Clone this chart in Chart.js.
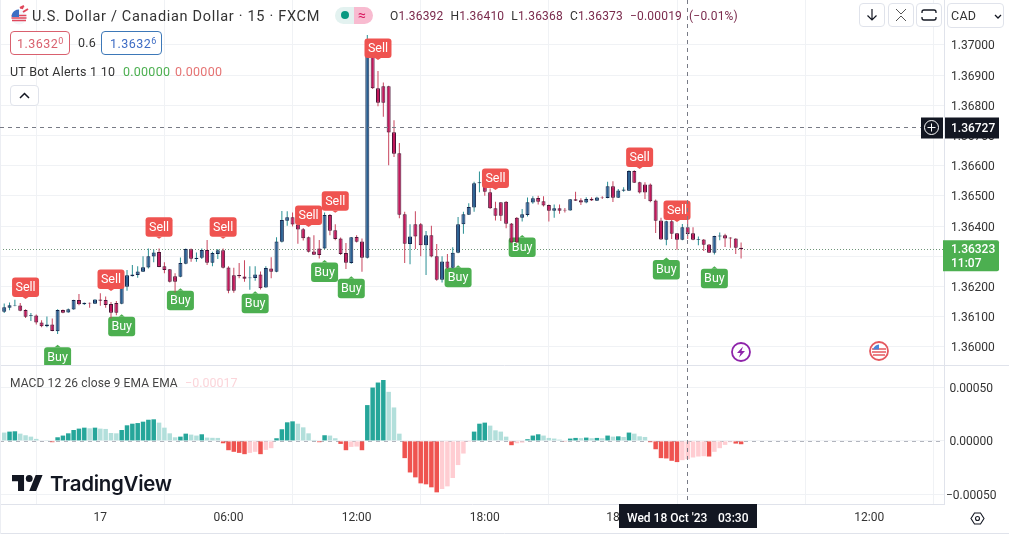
<!DOCTYPE html>
<html>
<head>
<meta charset="utf-8">
<title>USDCAD 15</title>
<script src="https://cdn.jsdelivr.net/npm/chart.js@4/dist/chart.umd.js"></script>
<style>
  html, body { margin: 0; padding: 0; background: #fff; }
  body { width: 1009px; height: 534px; overflow: hidden; position: relative; font-family: Roboto, sans-serif; color: #131722; }
  canvas { position: absolute; left: 0; top: 0; }
  .t { position: absolute; white-space: nowrap; font-size: 12.5px; line-height: 16px; letter-spacing: .25px; }
  .box { position: absolute; box-sizing: border-box; border: 1px solid #e0e3eb; border-radius: 4px; background: #fff; }
  sup { font-size: 9px; line-height: 0; vertical-align: 4px; }
  svg { position: absolute; overflow: visible; }
</style>
</head>
<body>
<canvas id="chart" width="1009" height="534"></canvas>

<svg style="left:10px;top:5px" width="20" height="20" viewBox="0 0 20 20">
  <circle cx="9" cy="12" r="7.5" fill="#f4f6fa"/>
  <path d="M1.6 10.5h14.8M1.5 13h15M2 15.5h14" stroke="#e0475b" stroke-width="1.4"/>
  <path d="M2 9a7.5 7.5 0 0 1 7-4.5V12H1.6z" fill="#3d6fc4"/>
  <path d="M10 3l4-2M13 7l5-3M12 4l1-3" stroke="#e0475b" stroke-width="2"/>
</svg>
<div class="t" style="left:32px;top:8.5px;font-size:14.5px;color:#333;letter-spacing:.7px">U.S. Dollar / Canadian Dollar · 15 · FXCM</div>

<div style="position:absolute;left:335px;top:7px;width:19px;height:17px;background:#e3f2f0;border-radius:9px 0 0 9px"></div>
<div style="position:absolute;left:354px;top:7px;width:19px;height:17px;background:#f8bbd0;border-radius:0 9px 9px 0"></div>
<div style="position:absolute;left:341px;top:11px;width:8px;height:8px;background:#089981;border-radius:50%"></div>
<div class="t" style="left:358px;top:7px;color:#d81b60;font-size:14px">≈</div>

<div class="t" style="left:390px;top:8px;color:#333;font-size:12px;letter-spacing:.2px;word-spacing:3.8px">O<span style="color:#7a2a4c">1.36392</span> H<span style="color:#7a2a4c">1.36410</span> L<span style="color:#7a2a4c">1.36368</span> C<span style="color:#7a2a4c">1.36373</span> <span style="color:#7a2a4c">−0.00019 (−0.01%)</span></div>

<div class="box" style="left:10px;top:31px;width:60px;height:24px;border-color:#d9606e"></div>
<div class="t" style="left:17px;top:36px;color:#d9606e;letter-spacing:.45px">1.3632<sup>0</sup></div>
<div class="t" style="left:78px;top:35px;color:#333">0.6</div>
<div class="box" style="left:101px;top:31px;width:61px;height:24px;border-color:#3d78b8"></div>
<div class="t" style="left:110px;top:36px;color:#3d6cc4;letter-spacing:.45px">1.3632<sup>6</sup></div>

<div class="t" style="left:10px;top:64px;color:#333">UT Bot Alerts 1 10</div>
<div class="t" style="left:123px;top:64px;color:#4caf50">0.00000</div>
<div class="t" style="left:175px;top:64px;color:#e57373">0.00000</div>
<div class="box" style="left:10px;top:85px;width:29px;height:21px"></div>
<svg style="left:19px;top:92px" width="11" height="7"><path d="M1 6l4.5-4.5L10 6" fill="none" stroke="#131722" stroke-width="1.5"/></svg>

<div class="box" style="left:859px;top:3px;width:26px;height:24px"></div>
<svg style="left:866px;top:8px" width="12" height="14"><path d="M6 1v11M1.5 7.500L6 12l4.500-4.500" fill="none" stroke="#131722" stroke-width="1.2"/></svg>
<div class="box" style="left:888px;top:3px;width:26px;height:24px"></div>
<svg style="left:895px;top:8px" width="12" height="14"><path d="M1 1l5 5 5-5M1 13l5-5 5 5" fill="none" stroke="#555" stroke-width="1"/></svg>
<div class="box" style="left:916px;top:3px;width:26px;height:24px"></div>
<svg style="left:921px;top:9px" width="16" height="12"><path d="M1 4V3a2 2 0 0 1 2-2h10a2 2 0 0 1 2 2v1M1 8v1a2 2 0 0 0 2 2h10a2 2 0 0 0 2-2V8" fill="none" stroke="#131722" stroke-width="1.3"/></svg>
<div class="box" style="left:947px;top:3px;width:57px;height:25px"></div>
<div class="t" style="left:951px;top:8px;color:#333;font-size:12.5px">CAD</div>
<svg style="left:994px;top:14px" width="8" height="5"><path d="M1 1l3 3 3-3" fill="none" stroke="#131722" stroke-width="1.3"/></svg>

<div class="t" style="left:10px;top:375px;color:#444;font-size:12px;letter-spacing:.12px">MACD 12 26 close 9 EMA EMA</div>
<div class="t" style="left:185px;top:375px;color:#fbd5da;letter-spacing:0">−0.00017</div>

<svg style="left:12px;top:475px" width="31" height="16" viewBox="0 4 36 18" preserveAspectRatio="none">
  <path d="M14 22H7V11H0V4h14zM28 22h-8l7.5-18h8z" fill="#131722"/><circle cx="20" cy="8" r="4" fill="#131722"/>
</svg>
<div class="t" style="left:50px;top:471px;font-family:Inter,Roboto,sans-serif;font-weight:600;font-size:20.5px;line-height:26px;letter-spacing:-.3px;color:#131722">TradingView</div>

<svg style="left:731px;top:342px" width="20" height="20" viewBox="0 0 20 20">
  <circle cx="10" cy="10" r="9" fill="#fff" stroke="#8e24aa" stroke-width="1.8"/>
  <path d="M12 4.500L6 11h3.500L8 15.500 14 9h-3.500z" fill="#8e24aa"/>
</svg>
<svg style="left:869px;top:341px" width="20" height="20" viewBox="0 0 20 20">
  <circle cx="10" cy="10" r="9" fill="#fff" stroke="#e5585f" stroke-width="1.8"/>
  <path d="M3 8h14M3 11h14M4 14h12" stroke="#e5585f" stroke-width="1.6"/>
  <path d="M4 8.500a7 7 0 0 1 6-5v5z" fill="#4a86d8"/>
</svg>
<svg style="left:970px;top:511px" width="15" height="15" viewBox="0 0 15 15">
  <path d="M4.500 2h6l3.500 5.500-3.500 5.500h-6L1 7.500z" fill="none" stroke="#131722" stroke-width="1.1"/>
  <circle cx="7.500" cy="7.500" r="2" fill="none" stroke="#131722" stroke-width="1.1"/>
</svg>

<script>
const opens = [1.36116,1.36130,1.36136,1.36137,1.36122,1.36102,1.36104,1.36081,1.36068,1.36074,
  1.36052,1.36122,1.36114,1.36124,1.36155,1.36141,1.36146,1.36143,1.36157,1.36155,
  1.36142,1.36145,1.36143,1.36199,1.36234,1.36238,1.36249,1.36263,1.36299,1.36314,
  1.36267,1.36257,1.36234,1.36232,1.36275,1.36323,1.36291,1.36295,1.36321,1.36279,
  1.36308,1.36320,1.36263,1.36237,1.36238,1.36233,1.36227,1.36228,1.36240,1.36197,
  1.36260,1.36249,1.36348,1.36418,1.36429,1.36405,1.36390,1.36363,1.36316,1.36326,
  1.36326,1.36437,1.36386,1.36359,1.36311,1.36278,1.36364,1.36349,1.36295,1.36965,
  1.36857,1.36863,1.36863,1.36711,1.36641,1.36439,1.36341,1.36406,1.36406,1.36337,
  1.36370,1.36300,1.36222,1.36283,1.36262,1.36312,1.36406,1.36438,1.36462,1.36542,
  1.36545,1.36512,1.36459,1.36479,1.36481,1.36409,1.36428,1.36428,1.36437,1.36478,
  1.36493,1.36482,1.36470,1.36451,1.36459,1.36454,1.36452,1.36489,1.36486,1.36478,
  1.36491,1.36484,1.36495,1.36493,1.36532,1.36494,1.36517,1.36517,1.36583,1.36545,
  1.36538,1.36538,1.36485,1.36419,1.36355,1.36416,1.36376,1.36355,1.36396,1.36376,
  1.36355,1.36356,1.36339,1.36312,1.36366,1.36370,1.36362,1.36359,1.36328];
const highs = [1.36144,1.36147,1.36156,1.36145,1.36125,1.36112,1.36107,1.36088,1.36101,1.36094,
  1.36125,1.36124,1.36127,1.36156,1.36175,1.36147,1.36147,1.36158,1.36178,1.36167,
  1.36149,1.36152,1.36202,1.36255,1.36271,1.36267,1.36300,1.36326,1.36322,1.36326,
  1.36280,1.36258,1.36244,1.36296,1.36326,1.36326,1.36313,1.36326,1.36354,1.36315,
  1.36324,1.36326,1.36267,1.36262,1.36278,1.36287,1.36267,1.36267,1.36250,1.36267,
  1.36297,1.36363,1.36450,1.36449,1.36445,1.36418,1.36394,1.36366,1.36370,1.36354,
  1.36445,1.36440,1.36406,1.36362,1.36344,1.36364,1.36370,1.36359,1.37033,1.36967,
  1.36914,1.36876,1.36865,1.36751,1.36675,1.36448,1.36406,1.36449,1.36410,1.36384,
  1.36401,1.36341,1.36300,1.36308,1.36330,1.36430,1.36448,1.36476,1.36547,1.36581,
  1.36550,1.36525,1.36481,1.36479,1.36483,1.36410,1.36430,1.36457,1.36495,1.36499,
  1.36501,1.36499,1.36472,1.36472,1.36472,1.36460,1.36490,1.36514,1.36492,1.36496,
  1.36496,1.36497,1.36499,1.36547,1.36549,1.36523,1.36529,1.36585,1.36585,1.36547,
  1.36545,1.36541,1.36488,1.36428,1.36418,1.36423,1.36377,1.36407,1.36423,1.36396,
  1.36366,1.36357,1.36341,1.36368,1.36379,1.36375,1.36363,1.36360,1.36346];
const lows = [1.36112,1.36121,1.36135,1.36118,1.36096,1.36086,1.36074,1.36065,1.36065,1.36052,
  1.36043,1.36111,1.36113,1.36123,1.36138,1.36139,1.36130,1.36142,1.36136,1.36130,
  1.36094,1.36105,1.36141,1.36186,1.36233,1.36229,1.36248,1.36260,1.36280,1.36264,
  1.36244,1.36213,1.36180,1.36231,1.36274,1.36282,1.36282,1.36291,1.36271,1.36267,
  1.36291,1.36260,1.36178,1.36179,1.36227,1.36216,1.36189,1.36219,1.36190,1.36196,
  1.36227,1.36247,1.36346,1.36401,1.36399,1.36342,1.36352,1.36313,1.36304,1.36293,
  1.36324,1.36370,1.36353,1.36304,1.36258,1.36275,1.36346,1.36249,1.36293,1.36854,
  1.36797,1.36762,1.36602,1.36629,1.36426,1.36278,1.36274,1.36324,1.36300,1.36238,
  1.36297,1.36219,1.36213,1.36258,1.36260,1.36310,1.36375,1.36437,1.36448,1.36512,
  1.36501,1.36457,1.36419,1.36417,1.36393,1.36344,1.36344,1.36415,1.36432,1.36474,
  1.36472,1.36465,1.36415,1.36428,1.36441,1.36445,1.36451,1.36483,1.36470,1.36476,
  1.36483,1.36483,1.36490,1.36492,1.36480,1.36493,1.36514,1.36516,1.36543,1.36508,
  1.36490,1.36479,1.36377,1.36354,1.36337,1.36357,1.36322,1.36353,1.36357,1.36353,
  1.36337,1.36318,1.36311,1.36306,1.36353,1.36331,1.36328,1.36308,1.36293];
const closes = [1.36131,1.36138,1.36138,1.36120,1.36100,1.36105,1.36081,1.36068,1.36074,1.36053,
  1.36122,1.36113,1.36125,1.36155,1.36141,1.36146,1.36144,1.36157,1.36153,1.36139,
  1.36113,1.36113,1.36200,1.36237,1.36240,1.36250,1.36264,1.36300,1.36313,1.36265,
  1.36255,1.36216,1.36216,1.36278,1.36324,1.36292,1.36295,1.36321,1.36279,1.36311,
  1.36320,1.36262,1.36186,1.36186,1.36234,1.36226,1.36230,1.36240,1.36194,1.36261,
  1.36249,1.36349,1.36420,1.36429,1.36405,1.36389,1.36360,1.36315,1.36305,1.36304,
  1.36437,1.36385,1.36357,1.36308,1.36279,1.36363,1.36348,1.36295,1.36965,1.36857,
  1.36809,1.36809,1.36710,1.36640,1.36438,1.36342,1.36366,1.36366,1.36337,1.36370,
  1.36299,1.36222,1.36283,1.36262,1.36312,1.36406,1.36439,1.36463,1.36542,1.36545,
  1.36514,1.36459,1.36434,1.36434,1.36408,1.36346,1.36346,1.36439,1.36479,1.36492,
  1.36481,1.36468,1.36451,1.36459,1.36451,1.36452,1.36489,1.36484,1.36478,1.36490,
  1.36485,1.36495,1.36493,1.36532,1.36494,1.36518,1.36521,1.36583,1.36544,1.36511,
  1.36511,1.36482,1.36418,1.36356,1.36416,1.36375,1.36355,1.36396,1.36374,1.36355,
  1.36357,1.36338,1.36312,1.36367,1.36369,1.36359,1.36359,1.36328,1.36323];

const macdHist = [0.000078,0.000087,0.000090,0.000068,0.000053,0.000040,0.000019,0.000005,0.000003,-0.000012,
  0.000034,0.000050,0.000071,0.000102,0.000115,0.000124,0.000118,0.000124,0.000115,0.000112,
  0.000074,0.000071,0.000102,0.000146,0.000161,0.000167,0.000180,0.000198,0.000202,0.000171,
  0.000124,0.000071,0.000034,0.000040,0.000068,0.000059,0.000050,0.000062,0.000031,0.000029,
  0.000028,-0.000022,-0.000087,-0.000102,-0.000112,-0.000124,-0.000112,-0.000102,-0.000124,-0.000084,
  -0.000068,0.000025,0.000109,0.000174,0.000183,0.000161,0.000127,0.000071,0.000009,-0.000012,
  0.000053,0.000050,0.000025,-0.000028,-0.000087,-0.000056,-0.000053,-0.000087,0.000335,0.000499,
  0.000546,0.000570,0.000459,0.000313,0.000068,-0.000161,-0.000295,-0.000341,-0.000397,-0.000406,
  -0.000434,-0.000481,-0.000450,-0.000425,-0.000347,-0.000226,-0.000118,-0.000009,0.000087,0.000161,
  0.000171,0.000143,0.000099,0.000087,0.000040,-0.000040,-0.000022,-0.000016,0.000016,0.000050,
  0.000062,0.000050,0.000028,0.000022,0.000012,-0.000003,0.000022,0.000028,0.000026,0.000031,
  0.000025,0.000028,0.000025,0.000050,0.000040,0.000043,0.000037,0.000078,0.000068,0.000043,
  0.000037,-0.000012,-0.000078,-0.000161,-0.000164,-0.000186,-0.000198,-0.000180,-0.000171,-0.000155,
  -0.000146,-0.000143,-0.000146,-0.000102,-0.000068,-0.000037,-0.000012,-0.000025,-0.000031];

const priceTicks = [1.36, 1.361, 1.362, 1.363, 1.364, 1.365, 1.366, 1.367, 1.368, 1.369, 1.37];
const macdTicks = [-0.0005, 0, 0.0005];
const timeTickBars = [18, 42, 66, 90, 114, 138, 162];
const timeTickLabels = ['17', '06:00', '12:00', '18:00', '18', '06:00', '12:00'];

// bar the marker hangs from, and the price of the tip of its little arrow
const sellBars = [4, 20, 29, 41, 57, 62, 70, 92, 119, 126];
const sellTips = [1.36159, 1.36185, 1.36358, 1.36358, 1.36397, 1.36444, 1.3695, 1.3652, 1.36589, 1.36414];
const buyBars = [10, 22, 33, 47, 60, 65, 85, 97, 124, 133];
const buyTips = [1.36007, 1.36108, 1.36194, 1.36184, 1.36288, 1.36234, 1.3627, 1.36371, 1.36296, 1.36267];

const lastPrice = 1.36323;
const crossPrice = 1.36727;
const crossBar = 128;

const UI = 'Roboto, sans-serif';
const GRID = '#f0f2f5';
const isUp = i => closes[i] >= opens[i];

const bodies = opens.map((o, i) => ({ x: i, y: [Math.min(o, closes[i]), Math.max(o, closes[i])] }));
const wicks = lows.map((l, i) => ({ x: i, y: [l, highs[i]] }));
const hist = macdHist.map((v, i) => ({ x: i, y: v }));

function histColor(i) {
  const v = macdHist[i], prev = i > 0 ? macdHist[i - 1] : v + 0.00001;
  if (v >= 0) return v >= prev ? '#26a69a' : '#b2dfdb';
  return v < prev ? '#ef5350' : '#ffcdd2';
}

function marker(ctx, x, tipY, text, color, below) {
  const w = 27, h = 19.5, top = below ? tipY + 2.5 : tipY - 2 - h;
  ctx.fillStyle = color;
  ctx.beginPath();
  ctx.roundRect(x - w / 2, top, w, h, 3);
  ctx.fill();
  ctx.beginPath();
  if (below) { ctx.moveTo(x - 3, top); ctx.lineTo(x, tipY); ctx.lineTo(x + 3, top); }
  else { ctx.moveTo(x - 3, top + h); ctx.lineTo(x, tipY); ctx.lineTo(x + 3, top + h); }
  ctx.fill();
  ctx.fillStyle = '#fff';
  ctx.font = '12.5px ' + UI;
  ctx.textAlign = 'center';
  ctx.textBaseline = 'middle';
  ctx.fillText(text, x, top + h / 2 + 0.5);
}

const overlay = {
  id: 'overlay',
  beforeDatasetsDraw(chart) {
    const { ctx, chartArea: a, scales } = chart;
    const { x, y, macd } = scales;
    ctx.save();
    ctx.lineWidth = 1;
    // zero line of the macd pane
    ctx.strokeStyle = '#b2b5be';
    ctx.setLineDash([4, 4]);
    const zero = Math.round(macd.getPixelForValue(0)) + 0.5;
    ctx.beginPath(); ctx.moveTo(a.left, zero); ctx.lineTo(a.right, zero); ctx.stroke();
    // last price
    ctx.strokeStyle = '#6f9478';
    ctx.setLineDash([1, 2]);
    const lp = Math.round(y.getPixelForValue(lastPrice)) + 0.5;
    ctx.beginPath(); ctx.moveTo(a.left, lp); ctx.lineTo(a.right, lp); ctx.stroke();
    ctx.setLineDash([]);
    // the Buy markers sit behind the candles and get cut at the pane edge
    ctx.beginPath(); ctx.rect(a.left, y.top, a.right - a.left, y.bottom - y.top); ctx.clip();
    buyBars.forEach((b, i) => marker(ctx, x.getPixelForValue(b), y.getPixelForValue(buyTips[i]), 'Buy', '#4caf50', true));
    ctx.restore();
  },
  afterDatasetsDraw(chart) {
    const { ctx, chartArea: a, scales, width } = chart;
    const { x, y } = scales;
    ctx.save();
    sellBars.forEach((b, i) => marker(ctx, x.getPixelForValue(b), y.getPixelForValue(sellTips[i]), 'Sell', '#ef5350', false));

    // pane separators
    ctx.strokeStyle = '#e0e3eb';
    ctx.lineWidth = 1;
    ctx.beginPath();
    ctx.moveTo(0, Math.round(y.bottom) + 0.5); ctx.lineTo(width, Math.round(y.bottom) + 0.5);
    ctx.moveTo(0, 533.5); ctx.lineTo(width, 533.5);
    ctx.stroke();
    ctx.strokeStyle = '#eceef3';
    ctx.beginPath(); ctx.moveTo(0.5, 0); ctx.lineTo(0.5, 534); ctx.stroke();

    // crosshair
    const cx = Math.round(x.getPixelForValue(crossBar)) - 0.5, cy = Math.round(y.getPixelForValue(crossPrice)) + 0.5;
    ctx.strokeStyle = '#787b86';
    ctx.setLineDash([4, 4]);
    ctx.beginPath();
    ctx.moveTo(a.left, cy); ctx.lineTo(a.right, cy);
    ctx.moveTo(cx, a.top); ctx.lineTo(cx, a.bottom);
    ctx.stroke();
    ctx.setLineDash([]);

    ctx.textBaseline = 'middle';
    // crosshair price tag with the plus button
    ctx.fillStyle = '#131722';
    ctx.fillRect(921, cy - 10, 22, 21);
    ctx.fillRect(945, cy - 10, 54, 21);
    ctx.strokeStyle = '#fff';
    ctx.beginPath(); ctx.arc(931.5, cy, 7, 0, Math.PI * 2); ctx.moveTo(927.5, cy); ctx.lineTo(935.5, cy); ctx.moveTo(931.5, cy - 4); ctx.lineTo(931.5, cy + 4); ctx.stroke();
    ctx.fillStyle = '#fff';
    ctx.font = '500 12px ' + UI;
    ctx.textAlign = 'left';
    ctx.fillText(crossPrice.toFixed(5), 951, cy + 1);

    // last price tag
    const ly = y.getPixelForValue(lastPrice);
    ctx.fillStyle = '#4caf50';
    ctx.beginPath(); ctx.roundRect(943, ly - 9, 56, 31, [0, 2, 2, 0]); ctx.fill();
    ctx.fillStyle = '#fff';
    ctx.fillText(lastPrice.toFixed(5), 951, ly + 1);
    ctx.fillText('11:07', 951, ly + 15);

    // crosshair date tag
    ctx.fillStyle = '#131722';
    ctx.fillRect(619, a.bottom, 138, 24);
    ctx.fillStyle = '#fff';
    ctx.fillText("Wed 18 Oct '23", 627, a.bottom + 15);
    ctx.fillText('03:30', 718, a.bottom + 15);
    ctx.restore();
  }
};

// tick labels must not add any inset to the plot area, panes sit edge to edge
function noPadding(s) {
  s.paddingTop = 0; s.paddingBottom = 0; s.paddingLeft = 0; s.paddingRight = 0;
}

new Chart(document.getElementById('chart'), {
  type: 'bar',
  plugins: [overlay],
  data: {
    datasets: [
      {
        label: 'Body', data: bodies, yAxisID: 'y', barThickness: 4, borderWidth: 1, borderSkipped: false, inflateAmount: 0, grouped: false,
        backgroundColor: c => isUp(c.dataIndex) ? '#2a5f92' : '#c2185b',
        borderColor: c => isUp(c.dataIndex) ? '#14264d' : '#4d1538'
      },
      {
        label: 'Wick', data: wicks, yAxisID: 'y', barThickness: 1, borderWidth: 0, inflateAmount: 0, grouped: false,
        backgroundColor: c => isUp(c.dataIndex) ? '#2a8f94' : '#c8465f'
      },
      {
        label: 'MACD', data: hist, yAxisID: 'macd', barThickness: 4.5, borderWidth: 0, inflateAmount: 0, grouped: false,
        backgroundColor: c => histColor(c.dataIndex)
      }
    ]
  },
  options: {
    responsive: false,
    animation: false,
    devicePixelRatio: 1,
    layout: { padding: 0, autoPadding: false },
    plugins: { legend: { display: false }, tooltip: { enabled: false } },
    scales: {
      x: {
        type: 'linear', offset: false, min: -0.787, max: 176,
        grid: { color: GRID, drawTicks: false },
        border: { color: '#e0e3eb' },
        afterBuildTicks: s => { s.ticks = timeTickBars.map(v => ({ value: v })); },
        afterFit: s => { s.height = 30; noPadding(s); },
        ticks: {
          autoSkip: false, maxRotation: 0, padding: 7, color: '#333', font: { family: UI, size: 12 },
          callback: v => timeTickLabels[timeTickBars.indexOf(v)]
        }
      },
      y: {
        type: 'linear', position: 'right', stack: 'panes', stackWeight: 365, min: 1.3594, max: 1.37149,
        grid: { color: GRID, drawTicks: false },
        border: { color: '#e0e3eb' },
        afterBuildTicks: s => { s.ticks = priceTicks.map(v => ({ value: v })); },
        afterFit: s => { s.width = 65; noPadding(s); },
        ticks: { crossAlign: 'center', padding: 7, labelOffset: 1.5, color: '#333', font: { family: UI, size: 12 }, callback: v => v.toFixed(5) }
      },
      macd: {
        type: 'linear', position: 'right', stack: 'panes', stackWeight: 139, min: -0.00059, max: 0.00071,
        grid: { color: GRID, drawTicks: false },
        border: { color: '#e0e3eb' },
        afterBuildTicks: s => { s.ticks = macdTicks.map(v => ({ value: v })); },
        afterFit: s => { s.width = 65; noPadding(s); },
        ticks: { crossAlign: 'center', padding: 2, labelOffset: 1.5, color: '#333', font: { family: UI, size: 12 }, callback: v => v.toFixed(5).replace('-', '−') }
      }
    }
  }
});
</script>
</body>
</html>
